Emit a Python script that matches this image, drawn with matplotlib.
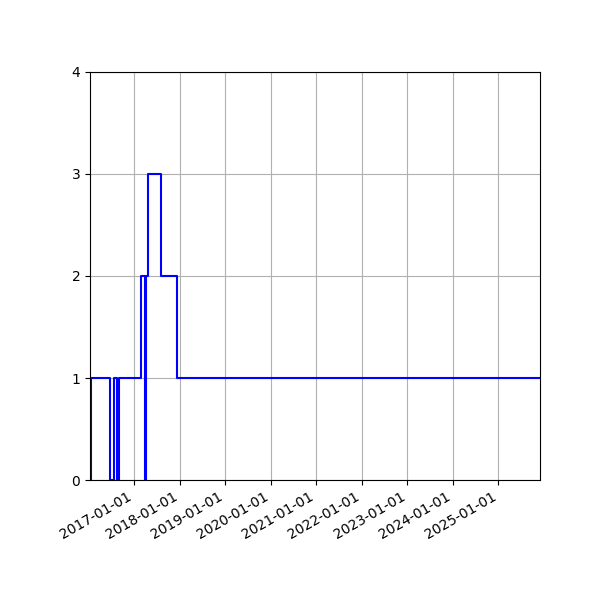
import numpy as np
import matplotlib
matplotlib.use("Agg")
import matplotlib.pyplot as plt
import matplotlib.dates as mdates

# change dates and counts (step plot, value holds until next date)
dates = ["2016-01-19", "2016-01-20", "2016-06-20", "2016-07-18", "2016-08-13",
         "2016-09-03", "2017-02-21", "2017-03-29", "2017-04-02", "2017-04-23",
         "2017-08-03", "2017-12-06", "2025-12-01"]
counts = [0, 1, 0, 1, 0, 1, 2, 0, 2, 3, 2, 1, 1]
x_start = "2016-01-11"

x = np.array(dates, dtype="datetime64[D]")

fig = plt.figure(figsize=(6, 6), dpi=100)
ax = fig.add_axes([0.15, 0.2, 0.75, 0.68])
ax.step(x, counts, where="post", color="blue", linewidth=1.5)

ax.set_xlim(np.datetime64(x_start), x[-1])
ax.set_ylim(0, 4)
ax.set_yticks([0, 1, 2, 3, 4])
ax.xaxis.set_major_locator(mdates.YearLocator())
ax.xaxis.set_major_formatter(mdates.DateFormatter("%Y-%m-%d"))
for lbl in ax.get_xticklabels():
    lbl.set_rotation(30)
    lbl.set_ha("right")
ax.grid(True)

fig.savefig("out.png")
